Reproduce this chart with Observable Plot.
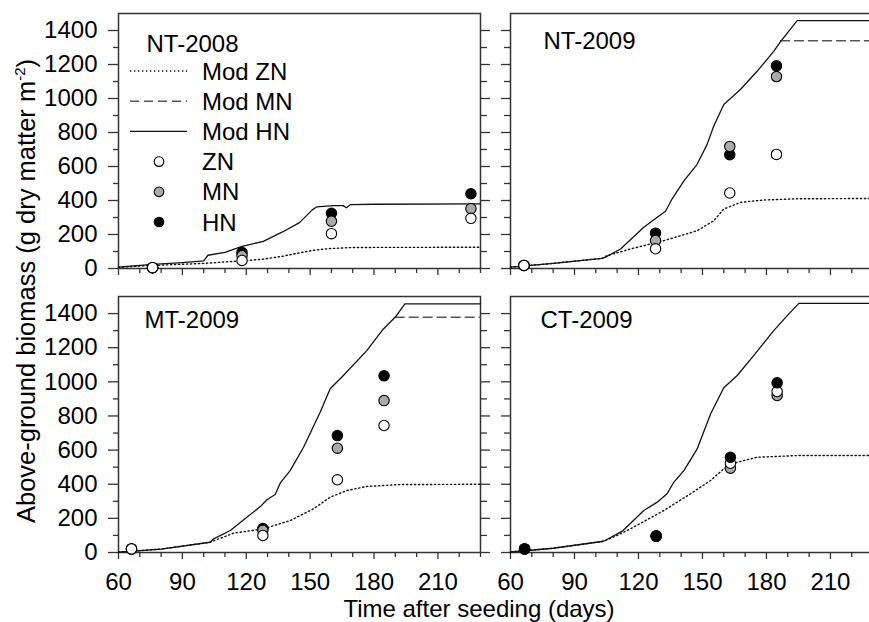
<!DOCTYPE html>
<html><head><meta charset="utf-8">
<script src="https://cdn.jsdelivr.net/npm/d3@7"></script>
<script src="https://cdn.jsdelivr.net/npm/@observablehq/plot@0.6"></script>
<style>
html,body{margin:0;padding:0;background:#fff;}
#chart{position:relative;width:869px;height:622px;overflow:hidden;font-family:Arial,"Liberation Sans",sans-serif;}
</style></head><body><div id="chart"></div>
<script>
// ---------- tick values ----------
const xTicksMajor = [60, 90, 120, 150, 180, 210];
const xTicksMinor = [70, 80, 100, 110, 130, 140, 160, 170, 190, 200, 220, 230];
const yTicksMajor = [0, 200, 400, 600, 800, 1000, 1200, 1400];
const yTicksMinor = [100, 300, 500, 700, 900, 1100, 1300];
const panelNames = ["NT-2008", "NT-2009", "MT-2009", "CT-2009"];
const legendLabels = ["Mod ZN", "Mod MN", "Mod HN", "ZN", "MN", "HN"];
const xTitle = "Time after seeding (days)";
const yTitleMain = "Above-ground biomass (g dry matter m";
const yTitleSup = "-2";

// ---------- NT-2008 ----------
const nt08ModHN_day = [60, 76, 90, 100, 102, 110, 118, 128, 137, 145, 151, 153, 161, 165.5, 167, 169, 180, 230];
const nt08ModHN_val = [8, 24, 35, 45, 78, 95, 130, 160, 215, 270, 345, 362, 370, 370, 357, 376, 378, 380];
const nt08ModZN_day = [60, 76, 100, 118, 128, 137, 145, 152, 159, 169, 180, 230];
const nt08ModZN_val = [8, 18, 30, 45, 55, 72, 92, 108, 117, 123, 124, 125];
const nt08ObsDay = [76, 118, 160, 225.5];
const nt08ObsZN = [5, 47, 205, 295];
const nt08ObsMN = [5, 75, 278, 352];
const nt08ObsHN = [5, 94, 325, 440];

// ---------- NT-2009 ----------
const nt09ModHN_day = [60, 80, 103, 105, 111.6, 122.5, 128.8, 132.7, 135.8, 141.3, 147.5, 152.2, 155.3, 160, 167.8, 175.6, 183.4, 186.6, 194.4, 230];
const nt09ModHN_val = [8, 30, 60, 70, 115, 243, 302, 337, 410, 515, 613, 730, 838, 965, 1053, 1160, 1277, 1335, 1458, 1458];
const nt09ModMN_day = [186.6, 230];
const nt09ModMN_val = [1340, 1340];
const nt09ModZN_day = [60, 80, 103, 105.3, 116.3, 131.9, 147.5, 155.3, 160, 167.8, 178.8, 194.4, 230];
const nt09ModZN_val = [8, 30, 60, 76, 115, 164, 222, 281, 350, 389, 403, 410, 412];
const nt09ObsDay = [66.3, 128, 162.8, 184.7];
const nt09ObsZN = [18, 116, 444, 671];
const nt09ObsMN = [18, 165, 718, 1129];
const nt09ObsHN = [18, 208, 669, 1192];

// ---------- MT-2009 ----------
const mt09ModHN_day = [60, 80, 103, 104.7, 112.5, 120.3, 126.6, 129.7, 133.6, 135.9, 140.6, 146.9, 154.7, 159.4, 165.6, 176.6, 184.4, 189.9, 194.5, 230];
const mt09ModHN_val = [2, 20, 60, 80, 129, 207, 269, 309, 340, 406, 480, 617, 822, 959, 1037, 1183, 1310, 1378, 1457, 1457];
const mt09ModMN_day = [189.9, 230];
const mt09ModMN_val = [1378, 1378];
const mt09ModZN_day = [60, 80, 103, 114, 128.1, 140.6, 151.6, 159.4, 167.2, 176.6, 192.2, 230];
const mt09ModZN_val = [2, 20, 60, 113, 139, 187, 256, 324, 363, 387, 398, 400];
const mt09ObsDay = [66.1, 127.8, 162.8, 184.7];
const mt09ObsZN = [21, 100, 426, 744];
const mt09ObsMN = [21, 130, 611, 890];
const mt09ObsHN = [21, 140, 685, 1035];

// ---------- CT-2009 ----------
const ct09ModHN_day = [60, 80, 103.7, 112.4, 122.5, 128.8, 133.4, 136.6, 141.3, 147.5, 153.8, 160, 166.3, 174, 183.4, 190.5, 195.2, 230];
const ct09ModHN_val = [3, 25, 66, 125, 246, 295, 344, 412, 480, 607, 812, 965, 1037, 1154, 1300, 1398, 1460, 1460];
const ct09ModZN_day = [60, 80, 103.7, 110, 116.3, 131.9, 144.4, 153.8, 160, 166.3, 175.6, 194.4, 230];
const ct09ModZN_val = [3, 25, 66, 100, 139, 246, 344, 422, 490, 529, 558, 568, 568];
const ct09ObsDay = [66.6, 128.3, 163.1, 185];
const ct09ObsZN = [21, 96, 523, 943];
const ct09ObsMN = [21, 96, 494, 920];
const ct09ObsHN = [21, 96, 558, 994];

// ---------- assemble ----------
const rows = (days, vals) => days.map((d, i) => ({day: d, value: vals[i]}));
const modelStyle = {
  ZN: {stroke: "#111", strokeWidth: 1.4, strokeDasharray: "1.3,2.7"},
  MN: {stroke: "#555", strokeWidth: 1.5, strokeDasharray: "9,5"},
  HN: {stroke: "#111", strokeWidth: 1.3}
};
const dotFill = {ZN: "#ffffff", MN: "#aaaaaa", HN: "#000000"};

const panels = [
  {name: panelNames[0], left: 0, top: 0, width: 500, height: 290, mL: 118, mR: 20, mT: 13, mB: 22,
   yText: true, xText: false, rightTicks: true, lab: [28, 38], order: ["HN", "MN", "ZN"],
   models: {ZN: rows(nt08ModZN_day, nt08ModZN_val), HN: rows(nt08ModHN_day, nt08ModHN_val)},
   obs: {ZN: rows(nt08ObsDay, nt08ObsZN), MN: rows(nt08ObsDay, nt08ObsMN), HN: rows(nt08ObsDay, nt08ObsHN)}},
  {name: panelNames[1], left: 440, top: 0, width: 440, height: 290, mL: 70, mR: 7.4, mT: 13, mB: 22,
   yText: false, xText: false, rightTicks: false, lab: [33, 35], order: ["HN", "MN", "ZN"],
   models: {ZN: rows(nt09ModZN_day, nt09ModZN_val), MN: rows(nt09ModMN_day, nt09ModMN_val), HN: rows(nt09ModHN_day, nt09ModHN_val)},
   obs: {ZN: rows(nt09ObsDay, nt09ObsZN), MN: rows(nt09ObsDay, nt09ObsMN), HN: rows(nt09ObsDay, nt09ObsHN)}},
  {name: panelNames[2], left: 0, top: 283, width: 500, height: 339, mL: 118, mR: 20, mT: 13, mB: 70,
   yText: true, xText: true, rightTicks: true, lab: [26, 31], order: ["HN", "MN", "ZN"],
   models: {ZN: rows(mt09ModZN_day, mt09ModZN_val), MN: rows(mt09ModMN_day, mt09ModMN_val), HN: rows(mt09ModHN_day, mt09ModHN_val)},
   obs: {ZN: rows(mt09ObsDay, mt09ObsZN), MN: rows(mt09ObsDay, mt09ObsMN), HN: rows(mt09ObsDay, mt09ObsHN)}},
  {name: panelNames[3], left: 440, top: 283, width: 440, height: 339, mL: 70, mR: 7.4, mT: 13, mB: 70,
   yText: false, xText: true, rightTicks: false, lab: [30, 31], order: ["MN", "ZN", "HN"],
   models: {ZN: rows(ct09ModZN_day, ct09ModZN_val), HN: rows(ct09ModHN_day, ct09ModHN_val)},
   obs: {ZN: rows(ct09ObsDay, ct09ObsZN), MN: rows(ct09ObsDay, ct09ObsMN), HN: rows(ct09ObsDay, ct09ObsHN)}}
];

const chart = document.getElementById("chart");
const axisColor = "#333";

for (const p of panels) {
  const marks = [];
  marks.push(Plot.axisY({ticks: yTicksMajor, tickSize: p.yText ? 10 : 9, tickPadding: 11, tickFormat: "d",
    stroke: axisColor, strokeWidth: 1.3, fill: p.yText ? "#000" : "none", label: null}));
  marks.push(Plot.axisY({ticks: yTicksMinor, tickSize: p.yText ? 5 : 6, stroke: axisColor, strokeWidth: 1.3, fill: "none", label: null}));
  if (p.rightTicks) {
    marks.push(Plot.axisY({anchor: "right", ticks: yTicksMajor, tickSize: 9, stroke: axisColor, strokeWidth: 1.3, fill: "none", label: null}));
    marks.push(Plot.axisY({anchor: "right", ticks: yTicksMinor, tickSize: 6, stroke: axisColor, strokeWidth: 1.3, fill: "none", label: null}));
  }
  marks.push(Plot.axisX({ticks: xTicksMajor, tickSize: 7, tickPadding: 13.5, tickFormat: "d",
    stroke: axisColor, strokeWidth: 1.3, fill: p.xText ? "#000" : "none", label: null}));
  marks.push(Plot.axisX({ticks: xTicksMinor, tickSize: 5, stroke: axisColor, strokeWidth: 1.3, fill: "none", label: null}));
  marks.push(Plot.frame({stroke: axisColor, strokeWidth: 1.5}));
  for (const k of ["ZN", "MN", "HN"]) {
    if (p.models[k]) marks.push(Plot.line(p.models[k], {x: "day", y: "value", ...modelStyle[k]}));
  }
  for (const k of p.order) {
    marks.push(Plot.dot(p.obs[k], {x: "day", y: "value", r: 5.2, fill: dotFill[k], stroke: "#000", strokeWidth: 1.1}));
  }
  marks.push(Plot.text([p.name], {frameAnchor: "top-left", dx: p.lab[0], dy: p.lab[1], text: d => d,
    textAnchor: "start", lineAnchor: "bottom", fontSize: 24, fill: "#000"}));

  const svg = Plot.plot({
    width: p.width, height: p.height,
    marginLeft: p.mL, marginRight: p.mR, marginTop: p.mT, marginBottom: p.mB,
    x: {domain: [60, 230]},
    y: {domain: [0, 1500]},
    style: {fontFamily: "Arial, 'Liberation Sans', sans-serif", fontSize: "24px", background: "transparent", overflow: "visible"},
    marks
  });
  svg.style.position = "absolute";
  svg.style.left = p.left + "px";
  svg.style.top = p.top + "px";
  chart.appendChild(svg);
}

// ---------- overlay: legend and axis titles ----------
const ov = d3.select(chart).append("svg")
  .attr("width", 869).attr("height", 622)
  .style("position", "absolute").style("left", "0px").style("top", "0px")
  .style("pointer-events", "none")
  .attr("font-family", "Arial, 'Liberation Sans', sans-serif");

const legTop = 71, legStep = 30.2;
legendLabels.forEach((lab, i) => {
  const cy = legTop + i * legStep;
  const key = lab.replace("Mod ", "");
  if (lab.startsWith("Mod")) {
    const st = modelStyle[key];
    ov.append("line").attr("x1", 130).attr("x2", 187).attr("y1", cy).attr("y2", cy)
      .attr("stroke", st.stroke).attr("stroke-width", st.strokeWidth)
      .attr("stroke-dasharray", st.strokeDasharray || null);
  } else {
    ov.append("circle").attr("cx", 159).attr("cy", cy).attr("r", 4.8)
      .attr("fill", dotFill[key]).attr("stroke", "#000").attr("stroke-width", 1.1);
  }
  ov.append("text").attr("x", 202).attr("y", cy + 8.6).attr("font-size", 24).attr("fill", "#000").text(lab);
});

ov.append("text").attr("x", 479).attr("y", 616.5).attr("text-anchor", "middle")
  .attr("font-size", 24).attr("fill", "#000").text(xTitle);

const yt = ov.append("text").attr("transform", "translate(35,291) rotate(-90)")
  .attr("text-anchor", "middle").attr("font-size", 25.5).attr("fill", "#000");
yt.append("tspan").text(yTitleMain);
yt.append("tspan").attr("dy", -10).attr("font-size", 15).text(yTitleSup);
yt.append("tspan").attr("dy", 10).text(")");
</script></body></html>
